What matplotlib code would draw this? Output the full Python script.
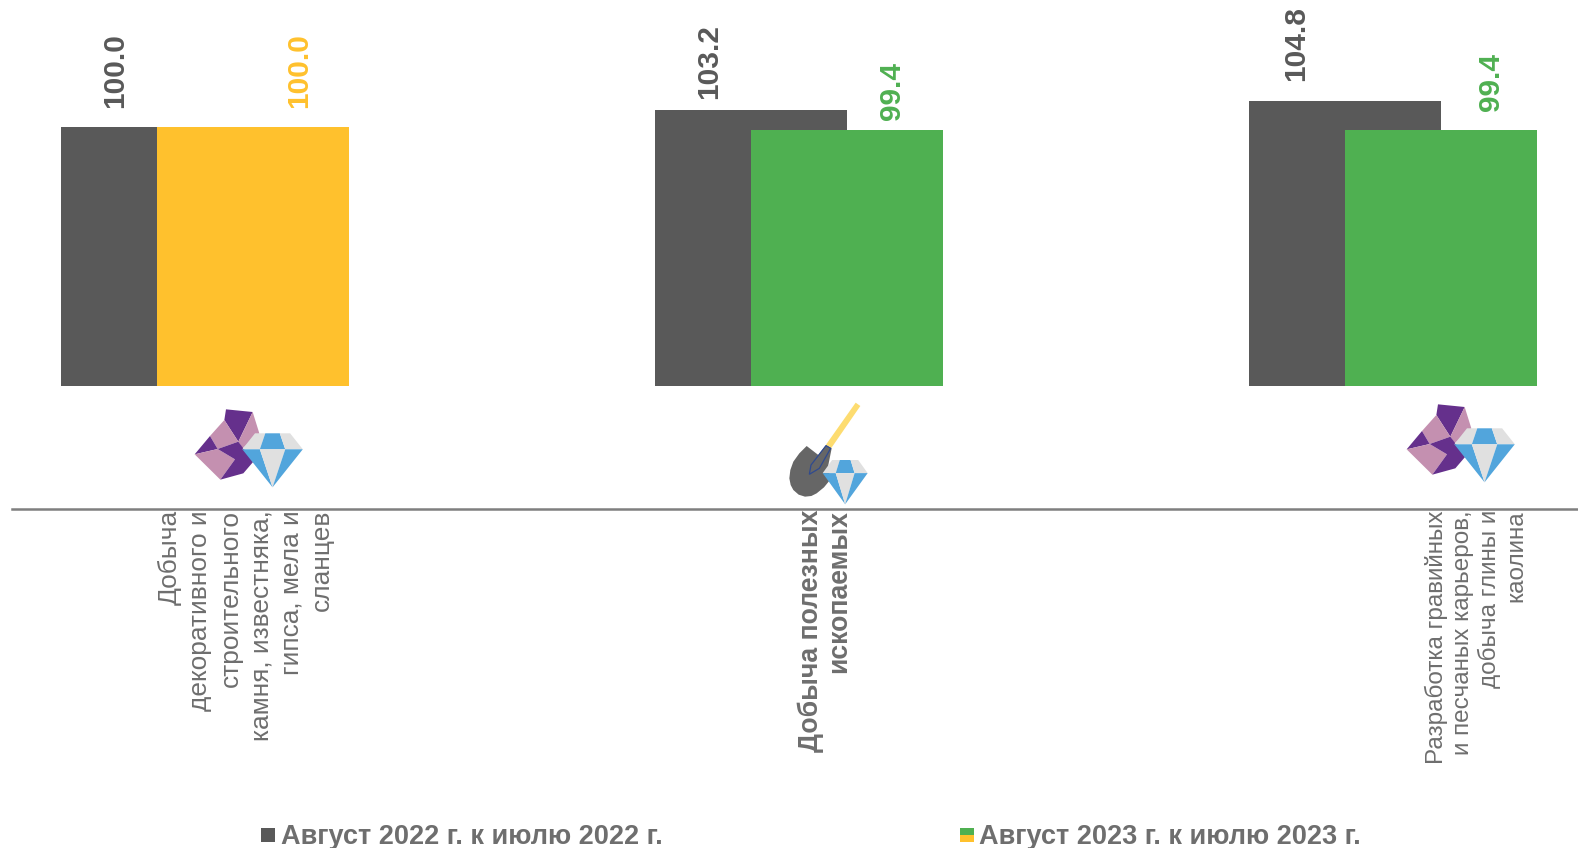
import matplotlib
matplotlib.use('Agg')
import matplotlib.pyplot as plt
from matplotlib.patches import Polygon, Rectangle

categories = [
    "Добыча\nдекоративного и\nстроительного\nкамня, известняка,\nгипса, мела и\nсланцев",
    "Добыча полезных\nископаемых",
    "Разработка гравийных\nи песчаных карьеров,\nдобыча глины и\nкаолина",
]
values_2022 = [100.0, 103.2, 104.8]
values_2023 = [100.0, 99.4, 99.4]
colors_2023 = ["#ffc12d", "#4fb051", "#4fb051"]
series_names = ["Август 2022 г. к июлю 2022 г.", "Август 2023 г. к июлю 2023 г."]

DARK = "#595959"
GREY = "#6e6e6e"
W, H = 1578, 848
BASE = 51

# label offsets in pixels, hand placed in the original
off_2022 = [(-42, 18), (-42, 11), (-49, 20)]
off_2023 = [(46, 18), (45, 10), (50, 19)]

plt.rcParams['font.family'] = ['Liberation Sans', 'DejaVu Sans']
fig = plt.figure(figsize=(W / 100, H / 100), dpi=100)

# axes: x from 12px to right edge, bottom spine at y=509px
ax = fig.add_axes([12 / W, 1 - 509 / H, (W - 12) / W, 509 / H])
px_per_cat = 594.0
px_per_unit = 5.3

# bars overlap by half their width
width = 191.5 / px_per_cat
for i in range(3):
    ax.bar(i - width / 4, values_2022[i] - BASE, width, bottom=BASE, color=DARK)
    ax.bar(i + width / 4, values_2023[i] - BASE, width, bottom=BASE, color=colors_2023[i])
    ax.annotate(f"{values_2022[i]:.1f}", (i - width / 4, values_2022[i]), xytext=off_2022[i],
                textcoords="offset pixels", rotation=90, ha="center", va="bottom",
                fontsize=21.5, fontweight="bold", color=DARK)
    ax.annotate(f"{values_2023[i]:.1f}", (i + width / 4, values_2023[i]), xytext=off_2023[i],
                textcoords="offset pixels", rotation=90, ha="center", va="bottom",
                fontsize=21.5, fontweight="bold", color=colors_2023[i])

for s in ["top", "left", "right"]:
    ax.spines[s].set_visible(False)
ax.spines["bottom"].set_color("#7f7f7f")
ax.spines["bottom"].set_linewidth(1.8)
ax.set_yticks([])
ax.set_xticks([0, 1, 2])
ax.set_xticklabels([])
ax.tick_params(length=0)

# category 1 sits at 799px
x0 = 1 + (12 - 799) / px_per_cat
ax.set_xlim(x0, x0 + (W - 12) / px_per_cat)
ax.set_ylim(100 - (509 - 126.5) / px_per_unit, 100 + 126.5 / px_per_unit)

# category labels, rotated with line ends flush against the axis
label_sizes = [18.9, 19.2, 17.5]
label_weights = ["normal", "bold", "normal"]
label_dx = [41, 26, 83]
label_spacing = [1.34, 1.11, 1.24]
for i, c in enumerate(categories):
    ax.annotate(c, (i, ax.get_ylim()[0]), xytext=(label_dx[i], -1), textcoords="offset pixels",
                annotation_clip=False, rotation=90, ha="center", va="top",
                multialignment="right", linespacing=label_spacing[i],
                fontsize=label_sizes[i], fontweight=label_weights[i], color=GREY)

# overlay in pixel coordinates for the icons
ov = fig.add_axes([0, 0, 1, 1], facecolor="none")
ov.set_xlim(0, W)
ov.set_ylim(H, 0)
ov.axis("off")

PURPLE = "#65308c"
PINK = "#c490b0"
BLUE = "#52a5dc"
LGREY = "#e0e0e0"
rock = [
    (PURPLE, [(228, 118), (308, 126), (265, 215), (223, 150)]),
    (PINK, [(308, 126), (328, 190), (278, 235), (265, 215)]),
    (PINK, [(223, 150), (265, 215), (203, 237), (180, 198)]),
    (PURPLE, [(180, 198), (203, 237), (134, 253)]),
    (PINK, [(134, 253), (203, 237), (255, 268), (211, 329)]),
    (PURPLE, [(203, 237), (265, 215), (310, 275), (280, 310), (211, 329), (255, 268)]),
]


def draw_gem(x, y, w, h):
    def p(pts):
        return [(x + a * w, y + b * h) for a, b in pts]
    wy = 0.296
    ov.add_patch(Polygon(p([(0, wy), (.21, 0), (.38, 0), (.29, wy)]), color=LGREY, lw=0))
    ov.add_patch(Polygon(p([(.38, 0), (.62, 0), (.71, wy), (.29, wy)]), color=BLUE, lw=0))
    ov.add_patch(Polygon(p([(.62, 0), (.79, 0), (1, wy), (.71, wy)]), color=LGREY, lw=0))
    ov.add_patch(Polygon(p([(0, wy), (.29, wy), (.5, 1)]), color=BLUE, lw=0))
    ov.add_patch(Polygon(p([(.29, wy), (.71, wy), (.5, 1)]), color=LGREY, lw=0))
    ov.add_patch(Polygon(p([(.71, wy), (1, wy), (.5, 1)]), color=BLUE, lw=0))


def draw_rock_gem(dx, dy):
    for col, pts in rock:
        ov.add_patch(Polygon([(150 + a / 3 + dx, 370 + b / 3 + dy) for a, b in pts], color=col, lw=0))
    draw_gem(242.3 + dx, 433.3 + dy, 60.5, 54)


draw_rock_gem(0, 0)
draw_rock_gem(1212, -5)


def z2(pts):
    return [(740 + a / 3, 390 + b / 3) for a, b in pts]


ov.add_patch(Polygon(z2([(347, 38), (361, 48), (274, 174), (258, 164)]), color="#fddc70", lw=0))
ov.add_patch(Polygon(z2([(200, 168), (178, 190), (160, 215), (151, 240), (148, 265), (152, 285), (160, 300),
                         (176, 314), (195, 320), (214, 318), (230, 310), (252, 292),
                         (270, 270), (265, 225), (275, 175), (258, 165), (235, 195)]), color="#666666", lw=0))
ov.add_patch(Polygon(z2([(258, 167), (272, 175), (238, 235), (208, 253), (213, 225)]),
                     facecolor="#666666", edgecolor="#2f4a8f", lw=0.9))
draw_gem(740 + 248 / 3, 390 + 210 / 3, 45, 44.3)

# legend
ov.add_patch(Rectangle((261, 828), 14, 14, color=DARK, lw=0))
ov.add_patch(Rectangle((960, 828), 14, 7, color="#4fb051", lw=0))
ov.add_patch(Rectangle((960, 835), 14, 7, color="#ffc12d", lw=0))
ov.text(281, 837, series_names[0], fontsize=19.5, fontweight="bold", color=GREY, va="center", ha="left")
ov.text(979, 837, series_names[1], fontsize=19.5, fontweight="bold", color=GREY, va="center", ha="left")

fig.savefig("out.png", dpi=100)
